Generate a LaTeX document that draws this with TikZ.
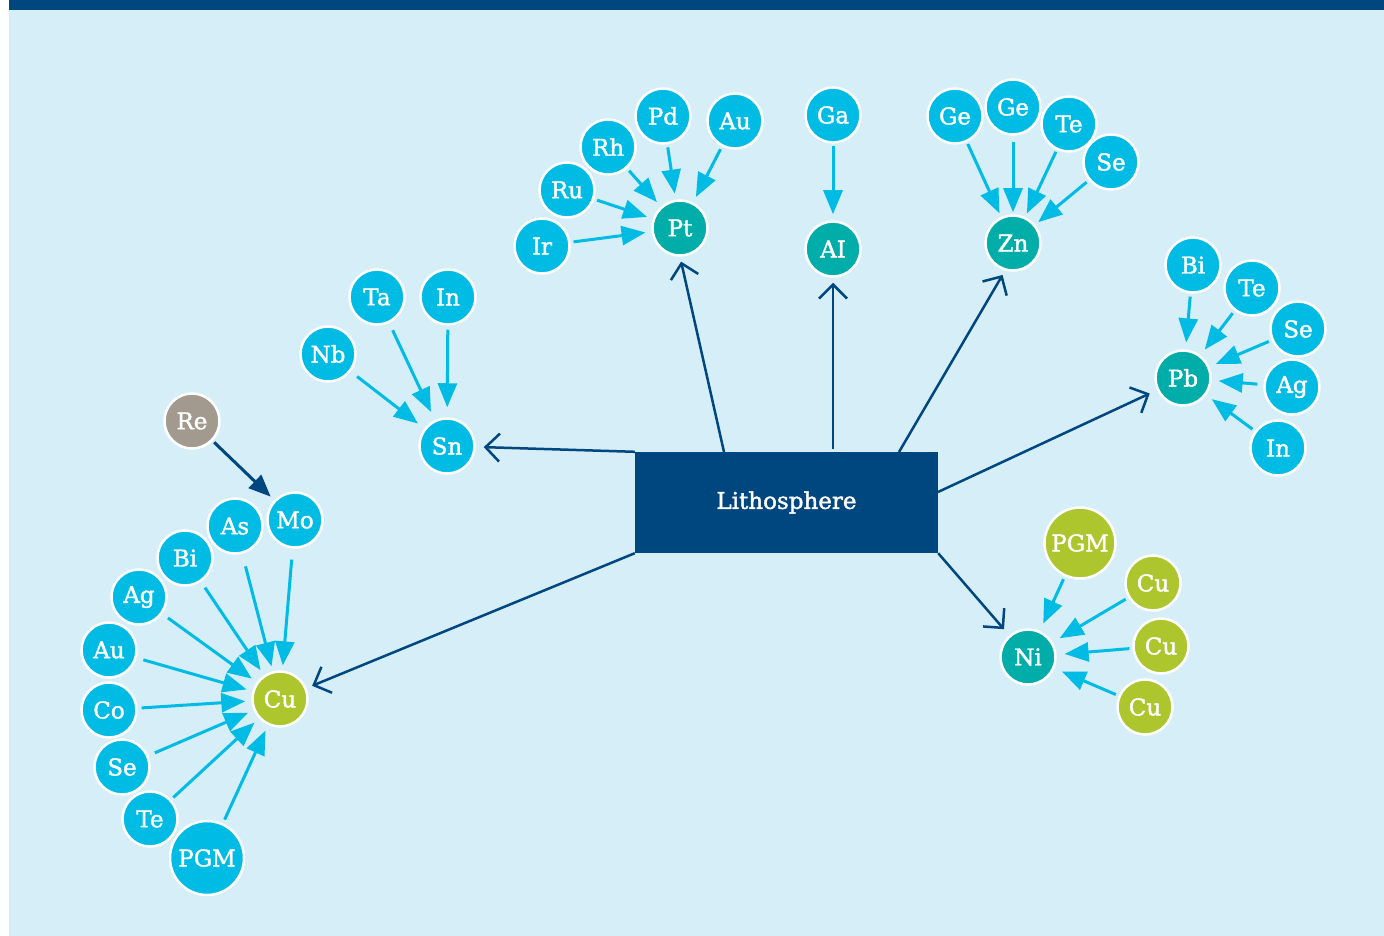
\documentclass[tikz,border=0pt]{standalone}
\usepackage{fontspec}
\setmainfont{DejaVu Serif}[BoldFont={DejaVu Serif},BoldFeatures={FakeBold=1.6}]
\usetikzlibrary{arrows.meta}
\definecolor{bgblue}{RGB}{213,238,248}
\definecolor{navy}{RGB}{0,70,127}
\definecolor{cyanE}{RGB}{0,188,228}
\definecolor{tealE}{RGB}{0,173,169}
\definecolor{limeE}{RGB}{174,198,45}
\definecolor{greyE}{RGB}{163,154,143}
\begin{document}
\begin{tikzpicture}[x=1pt,y=-1pt,
  elem/.style={circle,fill=cyanE,draw=white,line width=2.5pt,minimum size=55pt,inner sep=0pt,text=white,font=\fontsize{23}{27}\selectfont\bfseries},
  hub/.style={elem,fill=tealE},
  limeel/.style={elem,fill=limeE},
  greyel/.style={elem,fill=greyE},
  big/.style={minimum size=71pt},
  mainbox/.style={rectangle,fill=navy,minimum width=303pt,minimum height=101pt,inner sep=0pt,text=white,font=\fontsize{23}{27}\selectfont\bfseries},
  larrow/.style={draw=cyanE,line width=3pt,-{Triangle[length=24pt,width=19pt]},shorten <=3pt,shorten >=6pt},
  darrow/.style={draw=navy,line width=2.5pt,-{Straight Barb[length=14pt,width=28pt]}},
  rearrow/.style={draw=navy,line width=3pt,-{Triangle[length=22pt,width=18pt]}}
]
\useasboundingbox (0,0) rectangle (1384,936);
\fill[bgblue] (9,10) rectangle (1384,936);
\fill[navy] (9,0) rectangle (1384,10);

\node[mainbox] (litho) at (786.5,502.5) {Lithosphere};

% Pt cluster
\node[hub] (pt) at (680,228) {Pt};
\node[elem] (pd) at (663,116) {Pd};
\node[elem] (au1) at (735,121) {Au};
\node[elem] (rh) at (608,147) {Rh};
\node[elem] (ru) at (567,190) {Ru};
\node[elem] (ir) at (542,246) {Ir};

% Al
\node[elem] (ga) at (833,115) {Ga};
\node[hub] (al) at (833,249) {AI};

% Zn cluster
\node[hub] (zn) at (1013,243) {Zn};
\node[elem] (ge1) at (955,116) {Ge};
\node[elem] (ge2) at (1013,107) {Ge};
\node[elem] (te1) at (1069,124) {Te};
\node[elem] (se1) at (1111,162) {Se};

% Pb cluster
\node[hub] (pb) at (1183,378) {Pb};
\node[elem] (bi1) at (1193,265) {Bi};
\node[elem] (te2) at (1252,288) {Te};
\node[elem] (se2) at (1298,329) {Se};
\node[elem] (ag1) at (1292,387) {Ag};
\node[elem] (in1) at (1278,448) {In};

% Ni cluster
\node[hub] (ni) at (1028,657) {Ni};
\node[limeel,big] (pgm1) at (1080,543) {PGM};
\node[limeel] (cu1) at (1153,583) {Cu};
\node[limeel] (cu2) at (1161,646) {Cu};
\node[limeel] (cu3) at (1145,707) {Cu};

% Sn cluster
\node[elem] (sn) at (447,446) {Sn};
\node[elem] (ta) at (377,297) {Ta};
\node[elem] (in2) at (448,297) {In};
\node[elem] (nb) at (328,354) {Nb};

% Cu cluster
\node[greyel] (re) at (192,421) {Re};
\node[elem] (mo) at (295,520) {Mo};
\node[elem] (as) at (235,526) {As};
\node[elem] (bi2) at (185,558) {Bi};
\node[elem] (ag2) at (139,597) {Ag};
\node[elem] (au2) at (109,650) {Au};
\node[elem] (co) at (109,710) {Co};
\node[elem] (se3) at (122,767) {Se};
\node[elem] (te3) at (150,819) {Te};
\node[elem,big,minimum size=74pt] (pgm2) at (207,858) {PGM};
\node[limeel] (cu) at (280,699) {Cu};

% start points on the box
\coordinate (bpt) at (724,452);
\coordinate (bal) at (833,449);
\coordinate (bzn) at (899,452);
\coordinate (bpb) at (938,492);

% dark connectors
\draw[darrow,shorten >=8pt] (litho.north west) -- (sn);
\draw[darrow,shorten >=5pt] (bpt) -- (pt.south);
\draw[darrow,shorten >=5pt] (bal) -- (al.south);
\draw[darrow,shorten >=5pt] (bzn) -- (zn.-106);
\draw[darrow,shorten >=8pt] (bpb) -- (pb);
\draw[darrow,shorten >=8pt] (litho.south east) -- (ni);
\draw[darrow,shorten >=6pt] (litho.south west) -- (cu);
\draw[rearrow,shorten <=2pt,shorten >=5pt] (re) -- (mo);

% Pt
\draw[larrow] (pd) -- (pt);
\draw[larrow] (au1) -- (pt);
\draw[larrow] (rh) -- (pt);
\draw[larrow] (ru) -- (pt);
\draw[larrow] (ir) -- (pt);
% Al
\draw[larrow,shorten <=2pt,shorten >=6pt] (ga) -- (al);
% Zn
\draw[larrow,shorten <=2pt,shorten >=4pt] (ge1) -- (zn);
\draw[larrow,shorten <=6pt,shorten >=2pt] (ge2) -- (zn);
\draw[larrow,shorten <=2pt,shorten >=4pt] (te1) -- (zn);
\draw[larrow,shorten <=3pt,shorten >=4pt] (se1) -- (zn);
% Pb
\draw[larrow,shorten >=7pt] (bi1) -- (pb);
\draw[larrow,shorten >=7pt] (te2) -- (pb);
\draw[larrow,shorten >=7pt] (se2) -- (pb);
\draw[larrow,shorten <=6pt,shorten >=7pt] (ag1) -- (pb);
\draw[larrow,shorten >=7pt] (in1) -- (pb);
% Ni
\draw[larrow,shorten >=8pt] (pgm1) -- (ni);
\draw[larrow,shorten >=8pt] (cu1) -- (ni);
\draw[larrow,shorten >=8pt] (cu2) -- (ni);
\draw[larrow,shorten >=8pt] (cu3) -- (ni);
% Sn
\draw[larrow,shorten <=8pt,shorten >=9pt] (ta) -- (sn);
\draw[larrow,shorten <=4pt,shorten >=10pt] (in2) -- (sn);
\draw[larrow,shorten <=8pt,shorten >=8pt] (nb) -- (sn);
% Cu
\draw[larrow,shorten <=11pt,shorten >=5pt] (mo) -- (cu);
\draw[larrow,shorten <=13pt,shorten >=5pt] (as) -- (cu);
\draw[larrow,shorten <=7pt,shorten >=6pt] (bi2) -- (cu);
\draw[larrow,shorten <=7pt,shorten >=6pt] (ag2) -- (cu);
\draw[larrow,shorten <=7pt,shorten >=6pt] (au2) -- (cu);
\draw[larrow,shorten <=4pt,shorten >=6pt] (co) -- (cu);
\draw[larrow,shorten <=7pt,shorten >=6pt] (se3) -- (cu);
\draw[larrow,shorten <=3pt,shorten >=6pt] (te3) -- (cu);
\draw[larrow,shorten <=4pt,shorten >=6pt] (pgm2) -- (cu);
\end{tikzpicture}
\end{document}
